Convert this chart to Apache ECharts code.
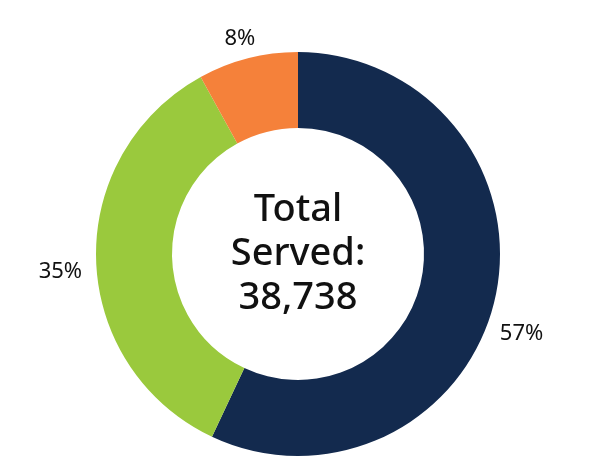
<!DOCTYPE html>
<html>
<head>
<meta charset="utf-8">
<script src="https://cdn.jsdelivr.net/npm/echarts@6/dist/echarts.min.js"></script>
<style>html,body{margin:0;padding:0;background:#fff;}#c{width:613px;height:470px;}</style>
</head>
<body>
<div id="c"></div>
<script>
const categories = ['A', 'B', 'C'];
const values = [57, 35, 8];
const colors = ['#132a4e', '#9ac93d', '#f5813a'];
const centerLines = ['Total', 'Served:', '38,738'];

const chart = echarts.init(document.getElementById('c'), null, {renderer: 'canvas'});
const labelShift = [[-14, 33], [5, 11], [16, -6]];
chart.setOption({
  animation: false,
  graphic: [{
    type: 'text',
    x: 298, y: 254,
    style: {
      text: centerLines.join('\n'),
      font: '500 38px "Noto Sans"',
      lineHeight: 44,
      fill: '#111',
      textAlign: 'center',
      textVerticalAlign: 'middle'
    }
  }],
  series: [{
    type: 'pie',
    center: [298, 254],
    radius: [126, 202],
    startAngle: 90,
    clockwise: true,
    avoidLabelOverlap: false,
    label: {
      show: true,
      position: 'outside',
      formatter: '{c}%',
      fontFamily: 'Noto Sans',
      fontSize: 22,
      color: '#111'
    },
    labelLine: {show: false, length: 14, length2: 0},
    labelLayout: function (p) {
      const s = labelShift[p.dataIndex];
      return {dx: s[0], dy: s[1]};
    },
    data: categories.map((n, i) => ({name: n, value: values[i], itemStyle: {color: colors[i]}}))
  }]
});
</script>
</body>
</html>
